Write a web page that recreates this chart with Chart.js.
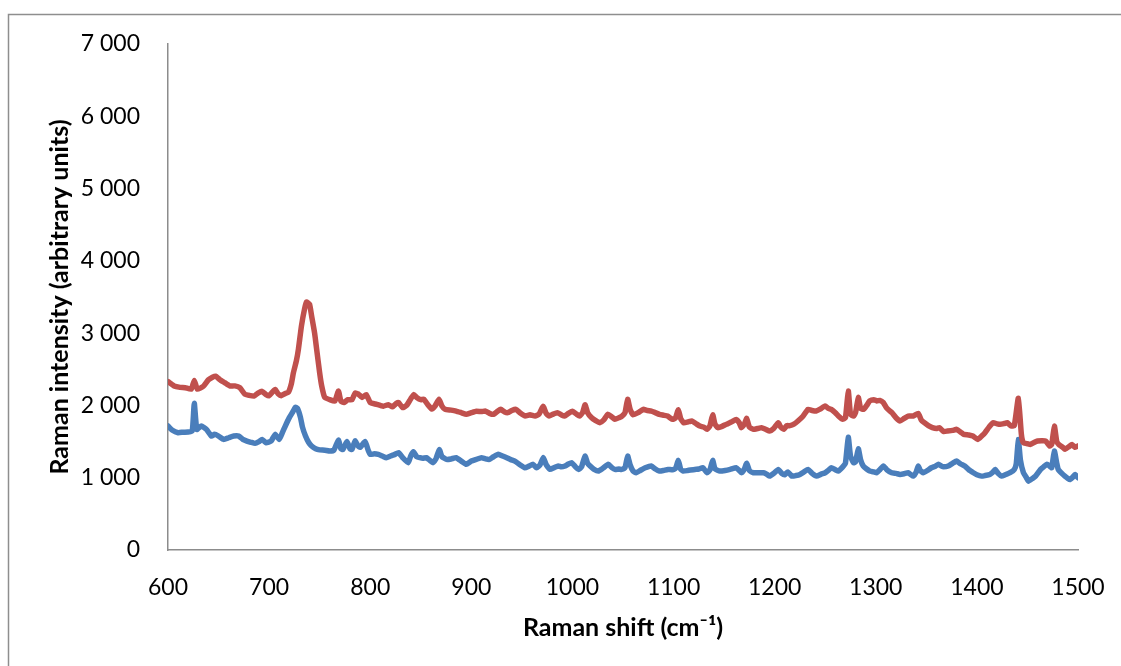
<!DOCTYPE html>
<html lang="en">
<head>
  <meta charset="UTF-8" />
  <title>Raman spectra</title>
  <script src="https://cdn.jsdelivr.net/npm/chart.js"></script>
  <style>
    html, body { margin: 0; padding: 0; background: #fff; }
    #ramanChart { display: block; }
  </style>
</head>
<body>
  <canvas id="ramanChart" width="1121" height="666"></canvas>

  <script>
    // upper (red) spectrum
    const redShift = [600, 606, 612, 617, 623, 626, 629, 635, 640, 644, 647, 651, 656, 661, 666, 671, 676, 680, 685, 689, 693, 697, 700, 703, 706, 709, 712, 716, 719, 722, 724, 727, 729, 732, 735, 737, 740, 742, 745, 747, 750, 752, 755, 760, 765, 768.5, 771, 774, 778, 782, 785, 788, 792, 796, 800, 805, 810, 813, 818, 822, 826, 828, 832, 836, 840, 843, 846, 850, 853, 857, 861, 864, 868, 871, 874, 880, 885, 890, 895, 900, 905, 910, 914, 918, 922, 926, 929, 933, 936, 940, 944, 948, 953, 958, 963, 967, 971, 974, 977, 981, 985, 989, 992, 996, 1000, 1004, 1007, 1010, 1012.5, 1015, 1019, 1023, 1027, 1031, 1035, 1039, 1042, 1046, 1049, 1052, 1054.6, 1057, 1060, 1065, 1070, 1074, 1078, 1082, 1086, 1090, 1094, 1099, 1102, 1104.7, 1107, 1110, 1114, 1118, 1122, 1126, 1130, 1133, 1136, 1138.7, 1141, 1144, 1148, 1152, 1157, 1162, 1165, 1167, 1170, 1172.3, 1175, 1179, 1183, 1187, 1191, 1195, 1199, 1203.6, 1206, 1209, 1212, 1215, 1219, 1223, 1228, 1233, 1237, 1241, 1245, 1250, 1253, 1256, 1260, 1263, 1267, 1270, 1272.8, 1275, 1278, 1280, 1282.7, 1285, 1288, 1291, 1294, 1298, 1301, 1304, 1307.5, 1311, 1316, 1320, 1324, 1328, 1332, 1337, 1342, 1345, 1348, 1352, 1356, 1360, 1363, 1367, 1371, 1376, 1380, 1384, 1387, 1392, 1396, 1401, 1405, 1408, 1412, 1416, 1420, 1423, 1427, 1430, 1434, 1437, 1441, 1444, 1446, 1450, 1453, 1457, 1460, 1464, 1468, 1472, 1474, 1476.6, 1479, 1481, 1485, 1487, 1491, 1494, 1497, 1500];
    const redIntensity = [2330, 2270, 2250, 2245, 2225, 2345, 2225, 2265, 2355, 2390, 2405, 2360, 2315, 2270, 2270, 2245, 2155, 2140, 2130, 2170, 2195, 2150, 2135, 2180, 2220, 2160, 2135, 2165, 2180, 2300, 2450, 2620, 2780, 3100, 3330, 3430, 3400, 3240, 3000, 2780, 2450, 2270, 2110, 2080, 2060, 2200, 2060, 2040, 2080, 2080, 2170, 2160, 2110, 2150, 2040, 2020, 2000, 1990, 2010, 1980, 2030, 2040, 1970, 2000, 2090, 2150, 2110, 2080, 2085, 2010, 1950, 1990, 2085, 1990, 1946, 1935, 1922, 1900, 1877, 1900, 1920, 1915, 1922, 1890, 1877, 1920, 1946, 1910, 1900, 1930, 1946, 1900, 1855, 1870, 1853, 1880, 1990, 1890, 1853, 1880, 1900, 1870, 1853, 1890, 1920, 1880, 1853, 1900, 2010, 1900, 1830, 1790, 1761, 1800, 1877, 1840, 1807, 1830, 1853, 1900, 2085, 1950, 1870, 1900, 1946, 1930, 1922, 1900, 1877, 1865, 1853, 1807, 1830, 1940, 1820, 1761, 1770, 1784, 1750, 1715, 1700, 1669, 1720, 1870, 1740, 1692, 1710, 1738, 1770, 1807, 1760, 1692, 1740, 1820, 1700, 1669, 1680, 1692, 1670, 1645, 1680, 1761, 1700, 1669, 1720, 1720, 1740, 1784, 1850, 1946, 1930, 1922, 1950, 1992, 1960, 1946, 1900, 1853, 1810, 1830, 2200, 1880, 1853, 1900, 2110, 1960, 1946, 2000, 2062, 2080, 2062, 2070, 2039, 1960, 1900, 1830, 1784, 1820, 1853, 1853, 1890, 1800, 1761, 1720, 1692, 1680, 1692, 1640, 1646, 1655, 1669, 1630, 1600, 1590, 1576, 1530, 1580, 1623, 1700, 1761, 1745, 1738, 1750, 1761, 1715, 1720, 2100, 1600, 1484, 1470, 1461, 1490, 1507, 1510, 1507, 1438, 1460, 1715, 1500, 1461, 1420, 1392, 1430, 1461, 1420, 1440];

    // lower (blue) spectrum
    const blueShift = [600, 604, 610, 615, 620, 624, 626, 628.5, 633, 638, 643, 646, 650, 655, 660, 665, 670, 674, 678, 682, 686, 690, 693, 697, 702, 706, 710, 713, 716, 720, 723, 726, 728, 731, 733, 736, 739, 742, 746, 750, 755, 760, 764, 768.5, 771, 773, 777, 780, 782, 785, 788, 790, 795, 798, 800, 804, 808, 812, 816, 820, 824, 828, 832, 837.6, 840, 842.6, 846, 849, 852, 855.6, 859, 862, 865, 868.3, 871, 875.5, 880, 885, 890, 895, 900, 905, 910, 914, 918, 922, 926.7, 931, 935, 939, 943, 948, 953, 957, 961, 964.6, 968, 971.2, 974, 977.8, 982, 986, 989, 992.7, 996, 999.3, 1003, 1006, 1009, 1012.4, 1015, 1017.5, 1021, 1025.6, 1030, 1035.5, 1039, 1042, 1046, 1048.6, 1052, 1054.6, 1057, 1060, 1063, 1067, 1072, 1078, 1082, 1086, 1090, 1094.5, 1099, 1102, 1104.7, 1107, 1109.5, 1114, 1121, 1125, 1129, 1133, 1136, 1138.7, 1141, 1146, 1151, 1156, 1162, 1165, 1167, 1170, 1172.3, 1175, 1179, 1184, 1189, 1192, 1195, 1199, 1203.6, 1207, 1210, 1213, 1217, 1221, 1225, 1229, 1233, 1237, 1241.5, 1246, 1250, 1253, 1256, 1260, 1263, 1266, 1268, 1270, 1272.8, 1275, 1278, 1280, 1282.7, 1285, 1287.6, 1291, 1294, 1298, 1301, 1304, 1307.5, 1311, 1315.7, 1320, 1324, 1328, 1332, 1335, 1337, 1340, 1342, 1344, 1347, 1351, 1355, 1359, 1362, 1365, 1367, 1371.7, 1376, 1380, 1384, 1388, 1392, 1396.5, 1400, 1404.6, 1408, 1412.8, 1416, 1418, 1421, 1424.5, 1428, 1432.8, 1437, 1439, 1441, 1443, 1446, 1449, 1451, 1455, 1458, 1463, 1466, 1469.4, 1472, 1474, 1476.6, 1479, 1480.5, 1484, 1487, 1490, 1492, 1495, 1497, 1500];
    const blueIntensity = [1715, 1660, 1623, 1630, 1632, 1650, 2030, 1669, 1715, 1669, 1576, 1600, 1576, 1530, 1553, 1576, 1576, 1530, 1507, 1490, 1475, 1500, 1530, 1484, 1507, 1600, 1530, 1620, 1715, 1831, 1900, 1975, 1960, 1835, 1700, 1576, 1490, 1438, 1400, 1385, 1380, 1369, 1380, 1520, 1400, 1392, 1500, 1400, 1392, 1510, 1440, 1420, 1500, 1380, 1323, 1330, 1323, 1300, 1277, 1300, 1320, 1346, 1280, 1208, 1300, 1360, 1290, 1277, 1270, 1277, 1240, 1208, 1260, 1390, 1290, 1254, 1260, 1277, 1230, 1185, 1230, 1254, 1277, 1260, 1254, 1290, 1323, 1300, 1277, 1250, 1230, 1180, 1138, 1160, 1185, 1138, 1180, 1280, 1180, 1115, 1140, 1162, 1150, 1162, 1190, 1208, 1150, 1115, 1150, 1300, 1200, 1162, 1120, 1092, 1130, 1185, 1140, 1115, 1120, 1115, 1140, 1300, 1180, 1092, 1069, 1100, 1138, 1162, 1120, 1092, 1100, 1115, 1110, 1130, 1240, 1120, 1092, 1100, 1115, 1120, 1138, 1069, 1110, 1240, 1120, 1092, 1100, 1115, 1138, 1100, 1069, 1120, 1200, 1100, 1069, 1069, 1069, 1050, 1022, 1060, 1115, 1060, 1040, 1080, 1022, 1030, 1046, 1080, 1115, 1060, 1022, 1050, 1069, 1100, 1138, 1110, 1092, 1130, 1162, 1200, 1560, 1300, 1208, 1220, 1400, 1250, 1162, 1120, 1092, 1080, 1069, 1110, 1162, 1110, 1069, 1060, 1046, 1055, 1069, 1040, 1022, 1080, 1162, 1100, 1069, 1100, 1138, 1160, 1185, 1160, 1150, 1162, 1200, 1230, 1190, 1162, 1110, 1069, 1040, 1022, 1030, 1046, 1080, 1115, 1060, 1022, 1040, 1069, 1115, 1200, 1530, 1250, 1069, 1000, 952, 990, 1022, 1115, 1150, 1185, 1160, 1138, 1369, 1200, 1115, 1060, 1022, 990, 975, 1010, 1046, 1000];

    const yTicks = [0, 1000, 2000, 3000, 4000, 5000, 6000, 7000];
    const xTicks = [600, 700, 800, 900, 1000, 1100, 1200, 1300, 1400, 1500];

    function toPoints(xs, ys) {
      return xs.map((x, i) => ({ x: x, y: ys[i] }));
    }

    function spaceThousands(v) {
      return String(v).replace(/\B(?=(\d{3})+(?!\d))/g, ' ');
    }

    // thin grey frame round the whole chart, like the spreadsheet chart object
    const chartFrame = {
      id: 'chartFrame',
      beforeDraw(chart) {
        const ctx = chart.ctx;
        ctx.save();
        ctx.strokeStyle = '#8e8e8e';
        ctx.lineWidth = 1.5;
        ctx.strokeRect(8.5, 14.5, chart.width + 20, chart.height + 20);
        ctx.restore();
      }
    };

    const axisGrey = '#8c8c8c';
    const tickFont = { family: 'Lato', size: 23 };
    const titleFont = { family: 'Lato', size: 25, weight: 'bold' };

    new Chart(document.getElementById('ramanChart').getContext('2d'), {
      type: 'line',
      data: {
        datasets: [
          {
            label: 'red',
            data: toPoints(redShift, redIntensity),
            borderColor: '#C0504D',
            borderWidth: 5.5,
            pointRadius: 0,
            tension: 0.15,
            borderCapStyle: 'round',
            borderJoinStyle: 'round'
          },
          {
            label: 'blue',
            data: toPoints(blueShift, blueIntensity),
            borderColor: '#4A7EBB',
            borderWidth: 5.5,
            pointRadius: 0,
            tension: 0.15,
            borderCapStyle: 'round',
            borderJoinStyle: 'round'
          }
        ]
      },
      options: {
        responsive: false,
        animation: false,
        devicePixelRatio: 1,
        layout: { padding: { left: 0, top: 44, right: 43, bottom: 0 } },
        plugins: {
          legend: { display: false },
          tooltip: { enabled: false }
        },
        scales: {
          x: {
            type: 'linear',
            min: 600,
            max: 1500,
            afterFit(scale) { scale.height = 116; },
            afterBuildTicks(scale) { scale.ticks = xTicks.map(v => ({ value: v })); },
            grid: { display: false },
            border: { display: true, color: axisGrey, width: 1.5 },
            ticks: { color: '#000', font: tickFont, padding: 16, maxRotation: 0, callback: v => String(v) },
            title: {
              display: true,
              text: 'Raman shift (cm⁻¹)',
              color: '#000',
              font: titleFont,
              padding: { top: 0, bottom: 23 }
            }
          },
          y: {
            min: 0,
            max: 7000,
            afterFit(scale) { scale.width = 168; },
            afterBuildTicks(scale) { scale.ticks = yTicks.map(v => ({ value: v })); },
            grid: { display: false },
            border: { display: true, color: axisGrey, width: 1.5 },
            ticks: { color: '#000', font: tickFont, padding: 20, callback: v => spaceThousands(v) },
            title: {
              display: true,
              text: 'Raman intensity (arbitrary units)',
              color: '#000',
              font: titleFont,
              padding: { top: 45, bottom: 0 }
            }
          }
        }
      },
      plugins: [chartFrame]
    });
  </script>
</body>
</html>
